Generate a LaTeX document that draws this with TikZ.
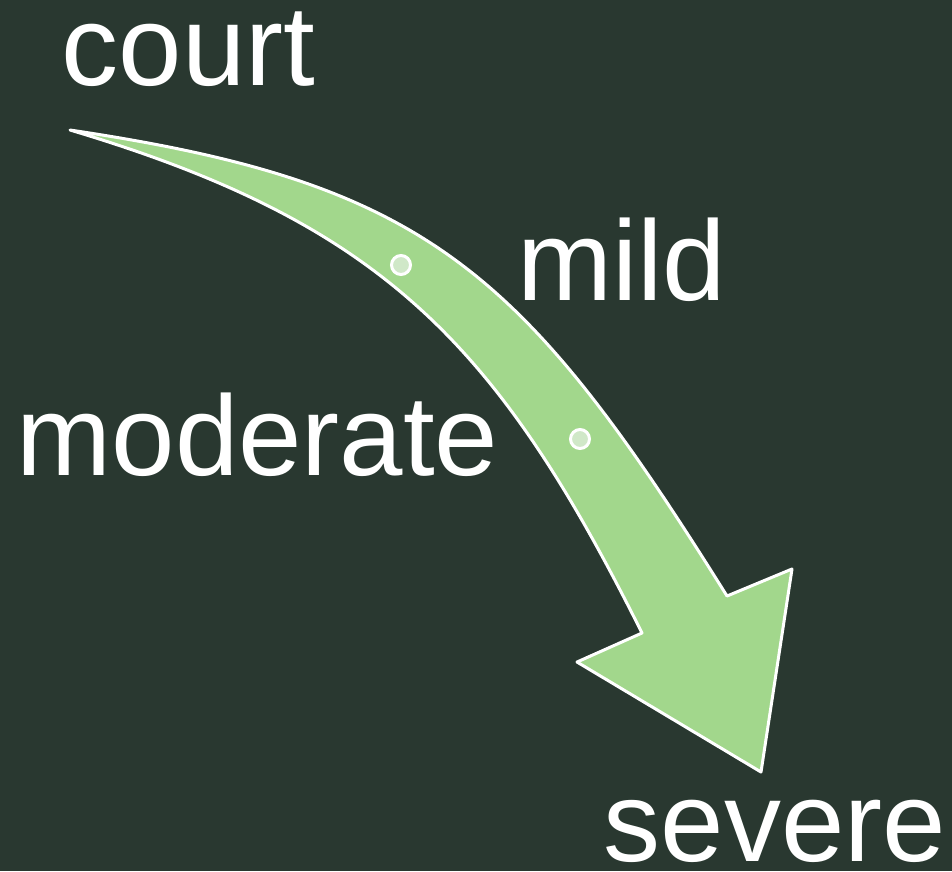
\documentclass[tikz,border=0pt]{standalone}
\usepackage{fontspec}
\setmainfont{Liberation Sans}
\definecolor{bgc}{RGB}{41,56,48}
\definecolor{arrowc}{RGB}{162,215,140}
\definecolor{dotc}{RGB}{208,232,200}
\begin{document}
\begin{tikzpicture}[x=1pt,y=-1pt,
  lbl/.style={anchor=base west,inner sep=0pt,text=white,font=\fontsize{114}{130}\selectfont},
  bigarrow/.style={fill=arrowc,draw=white,line width=3pt,line join=round},
  dot/.style={circle,fill=dotc,draw=white,line width=3pt,minimum size=19pt,inner sep=0pt}]
\fill[bgc] (0,0) rectangle (952,871);
\useasboundingbox (0,0) rectangle (952,871);
\draw[bigarrow] (70,130) .. controls (426,183) and (522,268) .. (727,596)
  -- (792,569) -- (761,772) -- (577,662) -- (642,633)
  .. controls (498,345) and (384.5,224) .. (70,130) -- cycle;
\node[dot] (d1) at (401,265) {};
\node[dot] (d2) at (580,439) {};
\node[lbl] (court) at (61.5,85) {court};
\node[lbl] (mild) at (517,300) {mild};
\node[lbl] (moderate) at (16.5,475) {moderate};
\node[lbl] (severe) at (603.5,861) {severe};
\end{tikzpicture}
\end{document}
